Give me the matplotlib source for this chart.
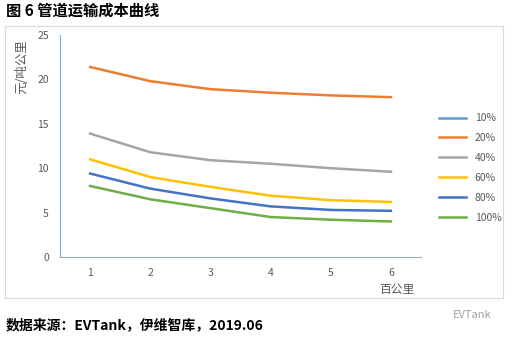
import matplotlib.pyplot as plt
from matplotlib.patches import Rectangle

plt.rcParams['font.family'] = ['Noto Sans CJK SC', 'DejaVu Sans']

W, H = 517, 338

# 数据
distance = [1, 2, 3, 4, 5, 6]
series_names = ['10%', '20%', '40%', '60%', '80%', '100%']
cost_10 = [None] * 6
cost_20 = [21.4, 19.8, 18.9, 18.5, 18.2, 18.0]
cost_40 = [13.9, 11.8, 10.9, 10.5, 10.0, 9.6]
cost_60 = [11.0, 9.0, 7.9, 6.9, 6.4, 6.2]
cost_80 = [9.4, 7.7, 6.6, 5.7, 5.3, 5.2]
cost_100 = [8.0, 6.5, 5.5, 4.5, 4.2, 4.0]
y_ticks = [0, 5, 10, 15, 20, 25]

colors = ['#5B9BD5', '#ED7D31', '#A5A5A5', '#FFC000', '#4472C4', '#70AD47']
all_costs = [cost_10, cost_20, cost_40, cost_60, cost_80, cost_100]


def px(x, y):
    """像素坐标 -> 图形坐标"""
    return x / W, 1 - y / H


fig = plt.figure(figsize=(W / 100, H / 100), dpi=100)

# 外框
fig.patches.append(Rectangle(px(5, 298), 498 / W, 272 / H, transform=fig.transFigure,
                             fill=False, edgecolor='#D9D9D9', linewidth=0.8))

# 标题和来源
fig.text(*px(6, 11), '图 6 管道运输成本曲线', fontsize=11, fontweight='bold', va='center')
fig.text(*px(6, 325), '数据来源：EVTank，伊维智库，2019.06', fontsize=10,
         fontweight='bold', va='center')
fig.text(*px(472, 315), 'EVTank', fontsize=8, color='#A0A0A0', va='center', ha='center')

# 坐标轴
ax = fig.add_axes([60 / W, (H - 257) / H, 361 / W, 222 / H])
for k, name in enumerate(series_names):
    vals = all_costs[k]
    if all(v is None for v in vals):
        ax.plot([], [], color=colors[k], linewidth=1.8, label=name)
    else:
        ax.plot(distance, vals, color=colors[k], linewidth=1.8, label=name)

ax.set_xlim(0.5, 6.5)
ax.set_ylim(0, 25)
ax.set_xticks(distance)
ax.set_yticks(y_ticks)
ax.tick_params(length=0, labelsize=7.5, colors='#595959', pad=8)
ax.spines['top'].set_visible(False)
ax.spines['right'].set_visible(False)
ax.spines['left'].set_color('#8EA9C8')
ax.spines['bottom'].set_color('#8EA9C8')

fig.text(*px(22, 67), '元/吨公里', fontsize=9, color='#595959', rotation=90,
         ha='center', va='center')
fig.text(*px(397, 290), '百公里', fontsize=8.5, color='#595959', ha='center', va='center')

ax.legend(loc='upper left', bbox_to_anchor=(1.025, 0.69), frameon=False, fontsize=7.5,
          labelcolor='#595959', handlelength=2.6, labelspacing=0.95)

fig.savefig('out.png', dpi=100)
